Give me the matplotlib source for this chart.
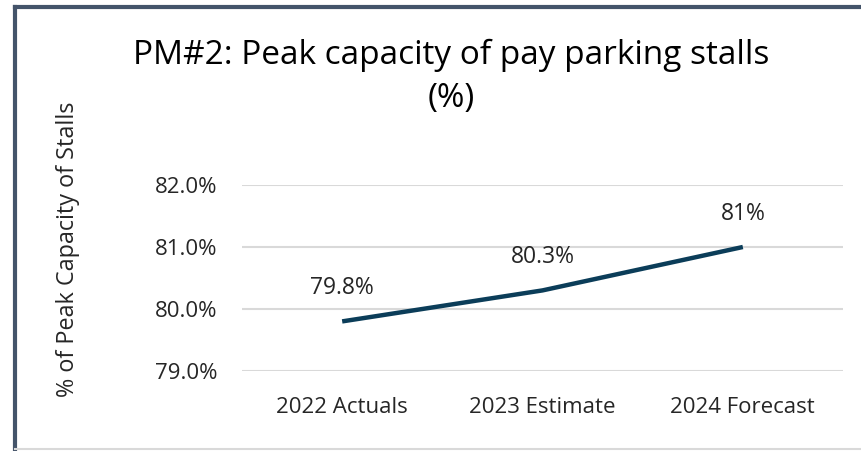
import matplotlib.pyplot as plt
from matplotlib.lines import Line2D

# Chart data
categories = ['2022 Actuals', '2023 Estimate', '2024 Forecast']
peak_capacity = [79.8, 80.3, 81.0]
point_labels = ['79.8%', '80.3%', '81%']
y_ticks = [79.0, 80.0, 81.0, 82.0]

plt.rcParams['font.family'] = ['Open Sans', 'DejaVu Sans']

fig = plt.figure(figsize=(8.61, 4.51), dpi=100)
ax = fig.add_axes([242 / 861, 1 - 371 / 451, 601 / 861, 186 / 451])

x = list(range(len(categories)))
ax.plot(x, peak_capacity, color='#0B3D59', linewidth=3.2, solid_capstyle='butt')

for xi, yi, lab in zip(x, peak_capacity, point_labels):
    ax.annotate(lab, (xi, yi), xytext=(0, 24), textcoords='offset points',
                ha='center', va='center', fontsize=16.5, color='#262626')

ax.set_xlim(-0.5, len(categories) - 0.5)
ax.set_ylim(79.0, 82.0)
ax.set_yticks(y_ticks)
ax.set_yticklabels([f'{v:.1f}%' for v in y_ticks])
ax.set_xticks(x)
ax.set_xticklabels(categories)
ax.tick_params(axis='both', length=0, labelsize=16, labelcolor='#262626')
ax.tick_params(axis='y', pad=18)
ax.tick_params(axis='x', pad=19)
ax.grid(axis='y', color='#D9D9D9', linewidth=1.5)
ax.set_axisbelow(True)
for s in ax.spines.values():
    s.set_visible(False)

ax.set_ylabel('% of Peak Capacity of Stalls', fontsize=16.8, color='#262626')
ax.yaxis.set_label_coords(-162 / 601, 0.656)

fig.text(451 / 861, 1 - 55 / 451, 'PM#2: Peak capacity of pay parking stalls',
         ha='center', va='center', fontsize=24, color='#000000')
fig.text(451 / 861, 1 - 99 / 451, '(%)', ha='center', va='center',
         fontsize=24, color='#000000')

# chart frame (left/top dark edge, bottom light)
fig.add_artist(Line2D([15 / 861, 15 / 861], [0, 1 - 7 / 451], transform=fig.transFigure,
                      color='#44546A', linewidth=3))
fig.add_artist(Line2D([15 / 861, 1], [1 - 7 / 451, 1 - 7 / 451], transform=fig.transFigure,
                      color='#44546A', linewidth=3))
fig.add_artist(Line2D([15 / 861, 1], [1 - 449 / 451, 1 - 449 / 451], transform=fig.transFigure,
                      color='#D9D9D9', linewidth=1.5))

fig.savefig('out.png', dpi=100)
